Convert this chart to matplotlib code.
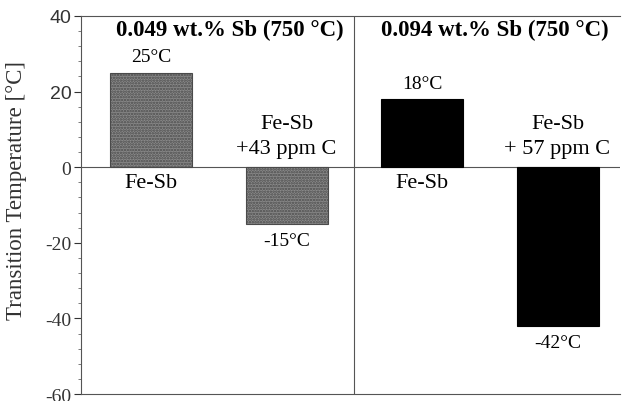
import numpy as np
import matplotlib
matplotlib.use("Agg")
import matplotlib.pyplot as plt
from matplotlib.ticker import MultipleLocator

# data
groups = ["0.049 wt.% Sb (750 °C)", "0.094 wt.% Sb (750 °C)"]
samples = ["Fe-Sb", "Fe-Sb\n+43 ppm C", "Fe-Sb", "Fe-Sb\n+ 57 ppm C"]
values = [25, -15, 18, -42]
value_labels = ["25°C", "-15°C", "18°C", "-42°C"]
yticks = [-60, -40, -20, 0, 20, 40]
ytick_labels = ["-60", "-40", "-20", "0", "20", "40"]

serif = "Liberation Serif"
plt.rcParams["hatch.linewidth"] = 1.2

fig = plt.figure(figsize=(6.23, 4.02), dpi=100)
ax = fig.add_axes([0.130, 0.0174, 0.865, 0.9406])

x = np.arange(len(values))
colors = ["#8a8a8a", "#8a8a8a", "black", "black"]
hatches = ["......", "......", None, None]
for xi, v, c, h in zip(x, values, colors, hatches):
    ax.bar(xi, v, width=0.605, color=c, hatch=h,
           edgecolor="#4a4a4a" if h else "black", linewidth=0.8)

ax.set_xlim(-0.517, 3.46)
ax.set_ylim(-60, 40)
ax.axhline(0, color="#555555", lw=0.8, zorder=0)
ax.axvline(1.5, color="#555555", lw=0.8)

# value labels at bar ends
for xi, v, lab in zip(x, values, value_labels):
    if v > 0:
        ax.text(xi, v + 2.0, lab, ha="center", va="bottom", fontsize=14,
                family=serif)
    else:
        ax.text(xi, v - 2.2, lab, ha="center", va="top", fontsize=14,
                family=serif)

# sample names on the opposite side of the zero line
for xi, v, lab in zip(x, values, samples):
    if v > 0:
        ax.text(xi, -1.6, lab, ha="center", va="top", fontsize=16,
                family=serif)
    else:
        ax.text(xi, 2.4, lab, ha="center", va="bottom", fontsize=16,
                family=serif, linespacing=1.45)

# group headers
for gx, g in zip([0.58, 2.54], groups):
    ax.text(gx, 36.4, g, ha="center", va="center", fontsize=16.5,
            fontweight="bold", family=serif)

ax.set_yticks(yticks)
ax.set_yticklabels(ytick_labels)
for t in ax.get_yticklabels():
    t.set_family("Liberation Sans" if not t.get_text().startswith("-") and t.get_text() != "0" else serif)
ax.yaxis.set_minor_locator(MultipleLocator(4))
ax.set_xticks([])
ax.tick_params(axis="y", which="major", direction="out", length=5,
               labelsize=14, colors="#333333", pad=2)
ax.tick_params(axis="y", which="minor", direction="out", length=2.5,
               color="#666666")
ax.set_ylabel("Transition Temperature [°C]", fontsize=16.5, family=serif,
              color="#333333")
ax.yaxis.set_label_coords(-0.10, 0.54)

for side in ["left", "bottom", "top"]:
    ax.spines[side].set_color("#555555")
    ax.spines[side].set_linewidth(0.8)
ax.spines["right"].set_visible(False)

fig.savefig("out.png", dpi=100)
